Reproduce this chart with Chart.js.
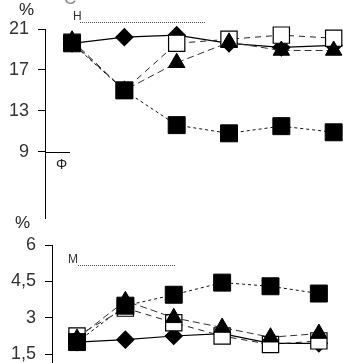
<!DOCTYPE html>
<html>
<head>
<meta charset="utf-8">
<script src="https://cdn.jsdelivr.net/npm/chart.js@4.4.1/dist/chart.umd.min.js"></script>
<style>
  body { margin: 0; background: #fff; width: 343px; height: 363px; overflow: hidden; position: relative; font-family: "Liberation Sans", Arial, sans-serif; }
  canvas { position: absolute; left: 0; }
  .lbl { position: absolute; color: #222; font-size: 17px; line-height: 1; }
  .note { position: absolute; border-bottom: 1px dotted #555; height: 0; }
</style>
</head>
<body>
<canvas id="botChart" width="343" height="158" style="top:225px;"></canvas>
<canvas id="topChart" width="343" height="238" style="top:0;"></canvas>
<div class="lbl" style="left:19px;top:1px;">%</div>
<div class="lbl" style="left:64px;top:-10px;color:#888;">C</div>
<div class="lbl" style="left:73px;top:10px;font-size:12px;color:#333;">Н</div>
<div class="note" style="left:80px;top:22px;width:125px;"></div>
<div class="lbl" style="left:56px;top:157px;font-size:14px;">Φ</div>
<div class="lbl" style="left:15px;top:214px;">%</div>
<div class="lbl" style="left:68px;top:253px;font-size:12px;color:#333;">М</div>
<div class="note" style="left:78px;top:265px;width:97px;"></div>
<script>
const points = [1, 2, 3, 4, 5, 6];

const topTicks = [21, 17, 13, 9];
const topDiamond = [19.6, 20.2, 20.4, 19.6, 19.2, 19.4];
const topOpenSquare = [19.7, 15.0, 19.6, 20.0, 20.4, 20.1];
const topTriangle = [19.9, 15.0, 17.7, 19.7, 18.9, 18.9];
const topFilledSquare = [19.6, 15.0, 11.6, 10.8, 11.5, 10.9];

const botTicks = [6, 4.5, 3, 1.5];
const botTickLabels = ["6", "4,5", "3", "1,5"];
const botDiamond = [2.0, 2.1, 2.25, 2.35, 1.95, 1.95];
const botOpenSquare = [2.25, 3.4, 2.8, 2.25, 1.9, 2.05];
const botTriangle = [2.15, 3.7, 3.0, 2.6, 2.2, 2.35];
const botFilledSquare = [2.0, 3.5, 3.95, 4.45, 4.3, 4.0];

function xy(vals) {
  return vals.map((v, i) => ({ x: points[i], y: v }));
}

function makeSets(filled, open, tri, dia) {
  // dataset 0 is drawn on top
  return [
    { data: xy(filled), borderColor: "#111", borderWidth: 1, borderDash: [3, 3],
      pointStyle: "rect", pointRadius: 12, pointBackgroundColor: "#000", pointBorderColor: "#000" },
    { data: xy(tri), borderColor: "#333", borderWidth: 1, borderDash: [7, 4],
      pointStyle: "triangle", pointRadius: 9.5, pointBackgroundColor: "#000", pointBorderColor: "#000" },
    { data: xy(open), borderColor: "#222", borderWidth: 1, borderDash: [6, 5],
      pointStyle: "rect", pointRadius: 11.5, pointBackgroundColor: "#fff", pointBorderColor: "#000", pointBorderWidth: 1.2 },
    { data: xy(dia), borderColor: "#000", borderWidth: 1.2,
      pointStyle: "rectRot", pointRadius: 8.5, pointBackgroundColor: "#000", pointBorderColor: "#000" },
  ];
}

// extra tick line across at 9 on the top axis
const nineLine = {
  id: "nineLine",
  afterDraw(chart) {
    if (chart.canvas.id !== "topChart") return;
    const y = chart.scales.y.getPixelForValue(9);
    const ctx = chart.ctx;
    ctx.save();
    ctx.strokeStyle = "#000";
    ctx.lineWidth = 1;
    ctx.beginPath();
    ctx.moveTo(chart.chartArea.left, Math.round(y) + 0.5);
    ctx.lineTo(chart.chartArea.left + 25, Math.round(y) + 0.5);
    ctx.stroke();
    ctx.restore();
  }
};

function makeChart(id, sets, yMin, yMax, ticks, labels, axisW, xMin, xMax, padTop) {
  return new Chart(document.getElementById(id), {
    type: "line",
    data: { datasets: sets },
    plugins: [nineLine],
    options: {
      responsive: false,
      animation: false,
      layout: { padding: { top: padTop, bottom: 0, left: 0, right: 0 } },
      plugins: { legend: { display: false }, tooltip: { enabled: false } },
      elements: { line: { tension: 0 } },
      datasets: { line: { clip: false } },
      scales: {
        x: { type: "linear", min: xMin, max: xMax, display: false },
        y: {
          min: yMin, max: yMax,
          afterBuildTicks: (s) => { s.ticks = ticks.map(v => ({ value: v })); },
          afterFit: (s) => { s.width = axisW; },
          grid: { display: true, drawOnChartArea: false, drawTicks: true, tickLength: 7, color: "#000" },
          border: { display: true, color: "#000", width: 1 },
          ticks: {
            color: "#333", padding: 9,
            font: { family: "Liberation Sans", size: 18 },
            callback: (v) => { const i = ticks.indexOf(v); return i >= 0 ? labels[i] : ""; }
          }
        }
      }
    }
  });
}

makeChart("topChart", makeSets(topFilledSquare, topOpenSquare, topTriangle, topDiamond),
  2.5, 21, topTicks, topTicks.map(String), 45, 0.483, 5.93, 29);
makeChart("botChart", makeSets(botFilledSquare, botOpenSquare, botTriangle, botDiamond),
  1.13, 6, botTicks, botTickLabels, 52, 0.483, 6.23, 20);
</script>
</body>
</html>
